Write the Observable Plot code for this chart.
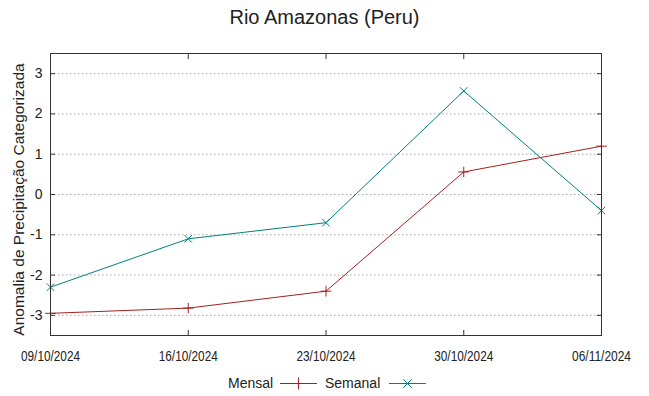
<!DOCTYPE html>
<html><head><meta charset="utf-8">
<script src="https://cdn.jsdelivr.net/npm/d3@7"></script>
<script src="https://cdn.jsdelivr.net/npm/@observablehq/plot@0.6"></script>
<style>
body{margin:0;background:#fff;font-family:"Liberation Sans",Arial,sans-serif;color:#222}
#wrap{position:relative;width:649px;height:396px;overflow:hidden}
#title{position:absolute;left:0;width:649px;top:5px;text-align:center;font-size:20px;line-height:24px}
#legend{position:absolute;left:0;top:0;width:649px;height:396px;pointer-events:none}
</style></head><body>
<div id="wrap"><div id="title">Rio Amazonas (Peru)</div></div>
<script>
const dates = ["2024-10-09","2024-10-16","2024-10-23","2024-10-30","2024-11-06"];
const dateLabels = ["09/10/2024","16/10/2024","23/10/2024","30/10/2024","06/11/2024"];
const mensal = [-2.95,-2.82,-2.40,0.56,1.20];
const semanal = [-2.30,-1.10,-0.70,2.57,-0.40];
const yTicks = [-3,-2,-1,0,1,2,3];
const seriesNames = ["Mensal","Semanal"];
const colors = ["#a3201f","#00807f"];

const parsed = dates.map(d => new Date(d + "T00:00:00Z"));
const rows = [];
parsed.forEach((d,i) => {
  rows.push({date:d, value:mensal[i], serie:seriesNames[0]});
  rows.push({date:d, value:semanal[i], serie:seriesNames[1]});
});
const labelOf = new Map(parsed.map((d,i)=>[+d, dateLabels[i]]));

const chart = Plot.plot({
  width:649, height:396,
  marginLeft:50, marginRight:48, marginTop:53, marginBottom:61,
  style:{fontFamily:"'Liberation Sans', Arial, sans-serif", fontSize:"14px", color:"#222", background:"#fff"},
  x:{type:"utc", domain:[parsed[0], parsed[parsed.length-1]]},
  y:{domain:[-3.5,3.5]},
  color:{domain:seriesNames, range:colors},
  marks:[
    Plot.ruleY(yTicks, {stroke:"#a8a8a8", strokeDasharray:"1.5,2.5", strokeWidth:1}),
    Plot.axisY(yTicks, {anchor:"left", tickSize:-5, tickPadding:13, fontSize:14, label:null, stroke:"#333", tickFormat:d=>String(d)}),
    Plot.axisY(yTicks, {anchor:"right", tickSize:-5, tickFormat:()=>"", label:null, stroke:"#333"}),
    Plot.axisX(parsed, {anchor:"bottom", tickSize:-5, tickPadding:21, tickFormat:d=>labelOf.get(+d), fontSize:14, label:null, stroke:"#333"}),
    Plot.axisX(parsed, {anchor:"top", tickSize:-5, tickFormat:()=>"", label:null, stroke:"#333"}),
    Plot.line(rows, {x:"date", y:"value", stroke:"serie", strokeWidth:1}),
    Plot.dot(rows, {x:"date", y:"value", stroke:"serie", symbol:d=>d.serie===seriesNames[0]?"plus":"times", r:3.5, strokeWidth:1}),
    Plot.frame({stroke:"#333"}),
    Plot.text(["Anomalia de Precipitação Categorizada"], {frameAnchor:"left", textAnchor:"middle", rotate:-90, dx:-31, dy:5, fontSize:15.5, fill:"#222", text:d=>d})
  ]
});
document.getElementById("wrap").appendChild(chart);

// narrow the x tick labels like the reference font
d3.select(chart).selectAll("g[aria-label='x-axis tick label'] text").each(function(){
  if (this.textContent) { this.setAttribute("textLength", 59); this.setAttribute("lengthAdjust","spacingAndGlyphs"); }
});

// legend
const leg = d3.select("#wrap").append("svg").attr("id","legend").attr("width",649).attr("height",396);
const items = [
  {name:seriesNames[0], color:colors[0], tx:228, x1:280, x2:317, sym:"plus"},
  {name:seriesNames[1], color:colors[1], tx:325, x1:389, x2:426, sym:"times"}
];
items.forEach(it=>{
  leg.append("text").attr("x",it.tx).attr("y",388).attr("font-size",14).attr("fill","#222")
    .attr("font-family","'Liberation Sans', Arial, sans-serif").text(it.name);
  leg.append("line").attr("x1",it.x1).attr("x2",it.x2).attr("y1",383.5).attr("y2",383.5).attr("stroke",it.color);
  const s = d3.symbol(it.sym==="plus"?d3.symbolPlus:d3.symbolTimes, 49)();
  leg.append("path").attr("d",s).attr("transform",`translate(${(it.x1+it.x2)/2},383.5)`).attr("fill","none").attr("stroke",it.color);
});
</script>
</body></html>
